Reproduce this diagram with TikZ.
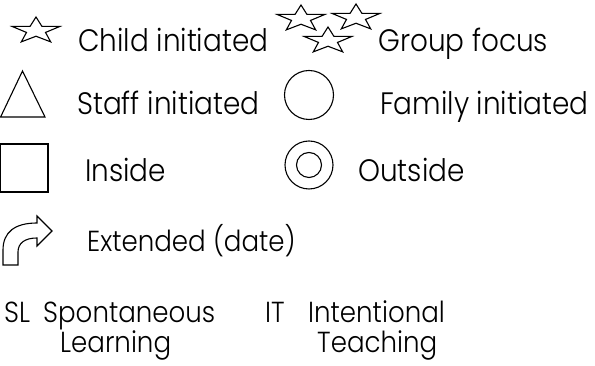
\documentclass[tikz,border=0pt]{standalone}
\usepackage{fontspec}
\setmainfont{Poppins}[UprightFont=* Light,FakeStretch=0.9]
\tikzset{
    legtext/.style={anchor=base west,inner sep=0pt,font=\fontsize{31}{33}\selectfont},
    smalltext/.style={legtext,font=\fontsize{29}{31}\selectfont},
    legicon/.style={line width=1.1pt,line join=miter}
}
\newcommand{\legstar}[2]{\draw[legicon,shift={(#1,#2)},yscale=0.55] (90:25) \foreach \k in {1,...,9}{ -- ({90+36*\k}:{mod(\k,2)==1 ? 10 : 25}) } -- cycle;}
\begin{document}
\begin{tikzpicture}[x=1pt,y=1pt]
    \useasboundingbox (0,0) rectangle (595,366);
    \legstar{36}{335.25}
    \legstar{301}{347.25}
    \legstar{356}{348.25}
    \legstar{328}{325.25}
    \draw[legicon] (0.6,249) -- (45,249) -- (22.5,295) -- cycle;
    \draw[legicon] (309,271) circle (24.5);
    \draw[legicon] (0.6,174) rectangle (48,222);
    \draw[legicon] (309,201) circle (24) (309,201) circle (12.5);
    \draw[legicon] (3,101) -- (3,116) .. controls (3,134) and (15,143) .. (37,143) -- (37,150) -- (52,135) -- (37,120) -- (37,128) .. controls (25,128) and (18,123) .. (18,114) -- (18,101) -- cycle;
    \node[legtext] (child) at (78,314) {Child initiated};
    \node[legtext] (group) at (378,314) {Group focus};
    \node[legtext] (staff) at (77,251) {Staff initiated};
    \node[legtext] (family) at (380,251) {Family initiated};
    \node[legtext] (inside) at (85,184) {Inside};
    \node[legtext] (outside) at (358,184) {Outside};
    \node[smalltext] (extended) at (87,114) {Extended (date)};
    \node[smalltext] (sl) at (4,43) {SL};
    \node[smalltext] (spont) at (43,43) {Spontaneous};
    \node[smalltext] (learn) at (60,13) {Learning};
    \node[smalltext] (it) at (265,43) {IT};
    \node[smalltext] (intent) at (308,43) {Intentional};
    \node[smalltext] (teach) at (317,13) {Teaching};
\end{tikzpicture}
\end{document}
